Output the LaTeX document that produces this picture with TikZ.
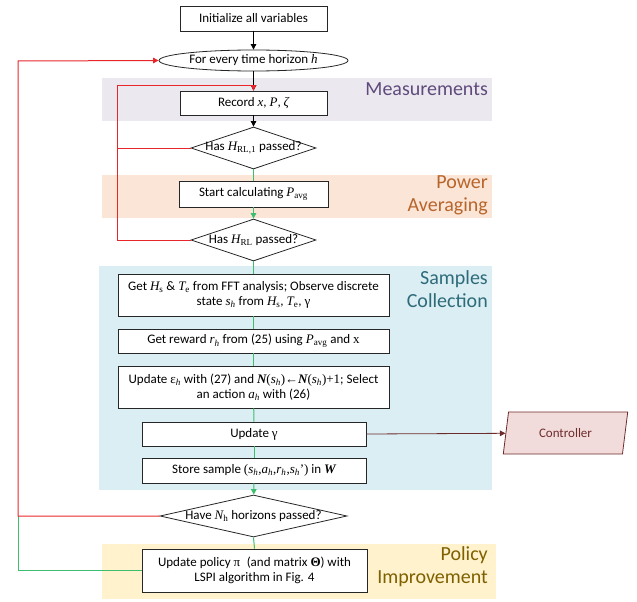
\documentclass[tikz,border=0pt]{standalone}
\usepackage{fontspec}
\setmainfont{Carlito}
\newfontfamily\tms{Liberation Serif}
\usetikzlibrary{shapes.geometric,arrows.meta}
\newcommand\mi[1]{{\tms\itshape #1}}
\newcommand\mr[1]{{\tms #1}}
\newcommand\mbi[1]{{\tms\bfseries\itshape #1}}
\newcommand\sbs[1]{\textsubscript{\tms #1}}
\definecolor{measbg}{HTML}{EBE8F0}
\definecolor{measfg}{HTML}{5F4B7B}
\definecolor{powbg}{HTML}{FBE5D6}
\definecolor{powfg}{HTML}{B8652C}
\definecolor{sampbg}{HTML}{DAEEF3}
\definecolor{sampfg}{HTML}{2E6B7A}
\definecolor{polbg}{HTML}{FFF2CC}
\definecolor{polfg}{HTML}{7F6000}
\definecolor{redln}{HTML}{E8262A}
\definecolor{grnln}{HTML}{3DBE6E}
\definecolor{ctrlbg}{HTML}{F2DCDB}
\definecolor{ctrlfg}{HTML}{6E2B2B}
\begin{document}
\begin{tikzpicture}[x=1pt,y=-1pt,
  box/.style={draw=black!85, line width=0.8pt, fill=white, inner sep=0pt, align=center,
    font=\fontsize{13}{15}\selectfont},
  dia/.style={draw=black!85, line width=0.8pt, fill=white, shape=diamond, inner sep=0pt},
  lbl/.style={inner sep=0pt, align=center, font=\fontsize{13}{15}\selectfont},
  band/.style={inner sep=0pt, anchor=east, align=right, font=\fontsize{20}{23.5}\selectfont},
  tip/.style={-{Triangle[length=5.5pt,width=5.5pt]}},
  blk/.style={line width=0.8pt, black},
  red/.style={line width=1pt, redln},
  grn/.style={line width=1pt, grnln}]
\useasboundingbox (0,0) rectangle (637,602);
% bands
\fill[measbg] (102,78) rectangle (492,121);
\fill[powbg] (102,175) rectangle (492,218);
\fill[sampbg] (99,266) rectangle (492,490);
\fill[polbg] (102,544) rectangle (496,599);
\node[band, text=measfg] (tmeas) at (488,89) {Measurements};
\node[band, text=powfg] (tpow) at (488,195.5) {Power\\Averaging};
\node[band, text=sampfg] (tsamp) at (488,289) {Samples\\Collection};
\node[band, text=polfg] (tpol) at (488,566.5) {Policy\\Improvement};
% nodes
\node[box, minimum width=147pt, minimum height=25pt] (init) at (253.5,18.5) {Initialize all variables};
\node[draw=black!85, line width=0.8pt, fill=white, shape=ellipse, minimum width=189pt, minimum height=21pt, inner sep=0pt] (ell) at (253.5,60.5) {};
\node[lbl] (tell) at (ell) {For every time horizon \mi{h}};
\node[box, minimum width=147pt, minimum height=24pt] (rec) at (253.5,103) {Record \mi{x}, \mi{P}, \mi{ζ}};
\node[dia, minimum width=125pt, minimum height=42pt] (d1) at (253.5,148) {};
\node[lbl] (td1) at (d1) {Has \mi{H}\sbs{RL,1} passed?};
\node[box, minimum width=149pt, minimum height=26pt] (start) at (253.5,194) {Start calculating \mi{P}\sbs{avg}};
\node[dia, minimum width=125pt, minimum height=42pt] (d2) at (253.5,240) {};
\node[lbl] (td2) at (d2) {Has \mi{H}\sbs{RL} passed?};
\node[box, minimum width=271pt, minimum height=42pt] (geths) at (253.5,295) {Get \mi{H}\sbs{s} \& \mi{T}\sbs{e} from FFT analysis; Observe discrete\\state \mi{s}\textsubscript{\mi{h}} from \mi{H}\sbs{s}, \mi{T}\sbs{e}, \mr{γ}};
\node[box, minimum width=271pt, minimum height=24pt] (reward) at (253.5,341) {Get reward \mi{r}\textsubscript{\mi{h}} from (25) using \mi{P}\sbs{avg} and \mr{x}};
\node[box, minimum width=271pt, minimum height=42pt] (upde) at (253.5,387) {Update \mr{ε}\textsubscript{\mi{h}} with (27) and \mbi{N}\mr{(}\mi{s}\textsubscript{\mi{h}}\mr{)←}\mbi{N}\mr{(}\mi{s}\textsubscript{\mi{h}}\mr{)+1}; Select\\an action \mi{a}\textsubscript{\mi{h}} with (26)};
\node[box, minimum width=224pt, minimum height=24pt] (updg) at (254,434) {Update \mr{γ}};
\node[box, minimum width=224pt, minimum height=25pt] (store) at (254,470.5) {Store sample \mr{(}\mi{s}\textsubscript{\mi{h}}\mr{,}\mi{a}\textsubscript{\mi{h}}\mr{,}\mi{r}\textsubscript{\mi{h}}\mr{,}\mi{s}\textsubscript{\mi{h}}\mr{’)} in \mbi{W}};
\node[dia, minimum width=187pt, minimum height=42pt] (d3) at (253.5,516) {};
\node[lbl] (td3) at (d3) {Have \mi{N}\sbs{h} horizons passed?};
\node[box, minimum width=225pt, minimum height=43pt] (pol) at (254.5,570.5) {Update policy \mr{π}\enspace(and matrix {\tms\bfseries Θ}) with\\LSPI algorithm in Fig. 4};
\node[draw=ctrlfg, line width=0.8pt, fill=ctrlbg, shape=trapezium, trapezium left angle=75, trapezium right angle=105, trapezium stretches=true, minimum width=125pt, minimum height=42pt, inner sep=0pt, text=ctrlfg, font=\fontsize{13}{15}\selectfont] (ctrl) at (565.5,433) {Controller};
\coordinate (rlA) at (117,85);
\coordinate (rlB) at (18,61);
% connectors
\draw[blk, tip] (init) -- (ell);
\draw[blk, tip] (ell) -- (rec);
\draw[blk, tip] (rec) -- (d1);
\draw[red, tip] (d1.west) -| (rlA) -- (rlA -| rec.north) -- (rec.north);
\draw[red] (d2.west) -| (d1.west -| rlA);
\draw[grn] (d1.south) -- (start.north);
\draw[grn, tip] (start) -- (d2);
\draw[grn] (d2.south) -- (geths.north);
\draw[grn] (geths) -- (reward);
\draw[grn] (reward) -- (upde);
\draw[grn] (upde) -- (updg);
\draw[grn] (updg) -- (store);
\draw[grn, tip] (store) -- (d3);
\draw[grn] (d3.south) -- (pol.north);
\draw[grn] (pol.west) -| (d3.west -| rlB);
\draw[red, tip] (d3.west) -| (rlB) -- (ell.west);
\draw[line width=0.8pt, ctrlfg, tip] (updg.east) -- (ctrl);
\end{tikzpicture}
\end{document}
